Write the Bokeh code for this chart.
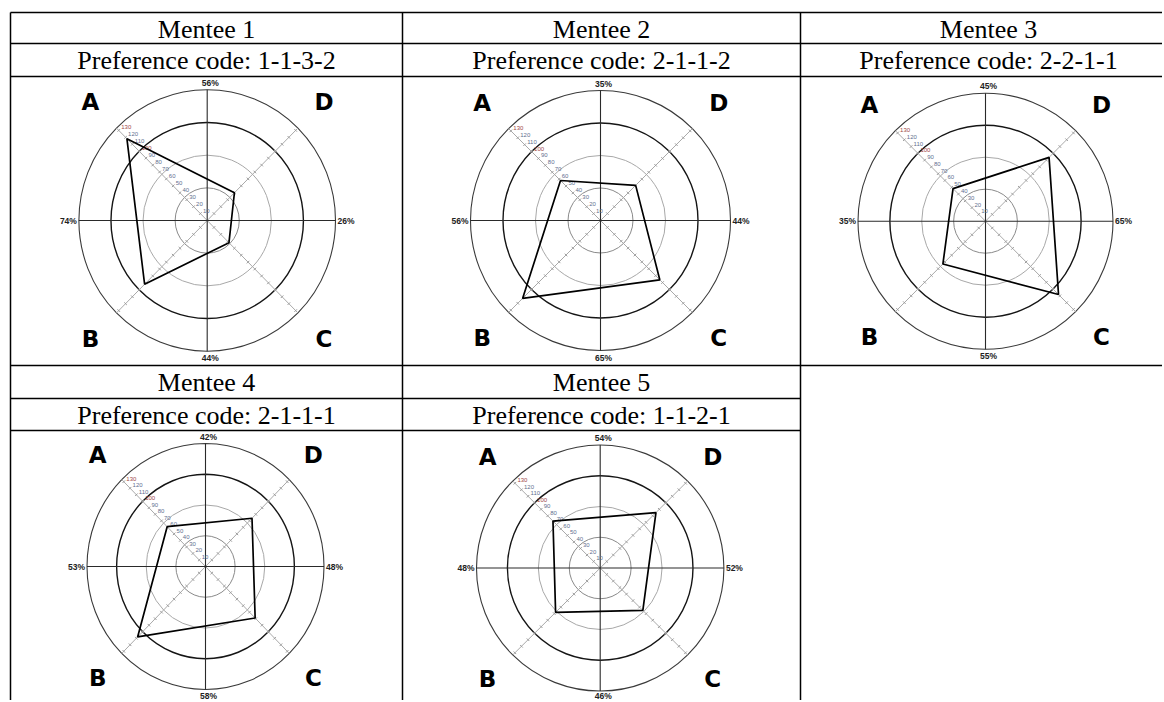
import numpy as np
from bokeh.plotting import figure
from bokeh.models import Range1d
from bokeh.core.properties import value
from bokeh.embed import file_html
from bokeh.resources import INLINE

# ---------------- data ----------------
mentees = ["Mentee 1", "Mentee 2", "Mentee 3", "Mentee 4", "Mentee 5"]
pref_codes = ["1-1-3-2", "2-1-1-2", "2-2-1-1", "2-1-1-1", "1-1-2-1"]
quadrants = ["A", "B", "C", "D"]
score_A = [118, 58, 48, 61, 72]
score_B = [92, 113, 63, 108, 68]
score_C = [32, 86, 108, 79, 65]
score_D = [40, 51, 94, 74, 85]
pct_top = ["56%", "35%", "45%", "42%", "54%"]
pct_left = ["74%", "56%", "35%", "53%", "48%"]
pct_right = ["26%", "44%", "65%", "48%", "52%"]
pct_bottom = ["44%", "65%", "55%", "58%", "46%"]
scale_ticks = [10, 20, 30, 40, 50, 60, 70, 80, 90, 100, 110, 120, 130]
ring_values = [33.33, 66.67, 100.0, 133.33]
scale_max = 133.33

# ---------------- layout (reference-pixel coordinates) ----------------
W, H = 1162, 700

panel_cx = [206.7, 600.0, 985.0, 205.0, 599.7]
panel_cy = [220.0, 220.0, 220.7, 566.0, 567.5]
panel_rx = [128.3, 130.0, 127.5, 118.5, 123.7]
panel_ry = [130.7, 130.0, 128.0, 123.0, 123.0]
cell_cx = [206, 601, 988, 206, 601]
title_top = [12, 12, 12, 365, 365]
code_top = [43, 43, 43, 398, 398]

# unit directions on screen (y downward): A upper-left, B lower-left, C lower-right, D upper-right
s2 = 1 / np.sqrt(2)
dirs = {"A": (-s2, -s2), "B": (-s2, s2), "C": (s2, s2), "D": (s2, -s2)}

p = figure(width=W, height=H, output_backend="svg", toolbar_location=None,
           x_range=Range1d(0, W), y_range=Range1d(H, 0),
           x_axis_location=None, y_axis_location=None, min_border=0)
p.grid.visible = False
p.outline_line_color = None
p.background_fill_color = "white"

# ---------------- table ----------------
hx0, hx1, hy = [], [], []
for y, x1 in [(12, 1200), (43, 1200), (76, 1200), (365, 1200), (398, 800), (430, 800)]:
    hx0.append(10); hx1.append(x1); hy.append(y)
p.segment(x0=hx0, y0=hy, x1=hx1, y1=hy, line_color="black", line_width=1.5)
vx, vy0, vy1 = [], [], []
for x in [10, 402, 800]:
    vx.append(x); vy0.append(12); vy1.append(H + 5)
p.segment(x0=vx, y0=vy0, x1=vx, y1=vy1, line_color="black", line_width=1.5)

p.text(x=cell_cx, y=[t + 16.5 for t in title_top], text=mentees,
       text_font=value("Liberation Serif"), text_font_size="26px", text_color="black",
       text_align="center", text_baseline="middle")
p.text(x=cell_cx, y=[t + 16.5 for t in code_top],
       text=["Preference code: " + c for c in pref_codes],
       text_font=value("Liberation Serif"), text_font_size="26px", text_color="black",
       text_align="center", text_baseline="middle")

# ---------------- radar panels ----------------
ring_colors = ["#8a8a8a", "#a8a8a8", "#151515", "#3a3a3a"]
ring_widths = [1.0, 1.0, 1.4, 1.1]

for i in range(5):
    cx, cy = panel_cx[i], panel_cy[i]
    sx, sy = panel_rx[i] / scale_max, panel_ry[i] / scale_max
    rx, ry = panel_rx[i], panel_ry[i]

    # rings
    for rv, rc, rw in zip(ring_values, ring_colors, ring_widths):
        p.ellipse(x=[cx], y=[cy], width=[2 * rv * sx], height=[2 * rv * sy],
                  fill_color=None, line_color=rc, line_width=rw)
    # diagonal scale lines with ticks
    dx0, dy0, dx1, dy1 = [], [], [], []
    tx0, ty0, tx1, ty1 = [], [], [], []
    for q in quadrants:
        ux, uy = dirs[q]
        dx0.append(cx); dy0.append(cy)
        dx1.append(cx + scale_max * sx * ux); dy1.append(cy + scale_max * sy * uy)
        for t in scale_ticks:
            px, py = cx + t * sx * ux, cy + t * sy * uy
            nx, ny = -uy, ux
            tx0.append(px - 1.8 * nx); ty0.append(py - 1.8 * ny)
            tx1.append(px + 1.8 * nx); ty1.append(py + 1.8 * ny)
    p.segment(x0=dx0, y0=dy0, x1=dx1, y1=dy1, line_color="#a9a9a9", line_width=1)
    p.segment(x0=tx0, y0=ty0, x1=tx1, y1=ty1, line_color="#9a9a9a", line_width=1)

    # horizontal / vertical axes
    p.segment(x0=[cx - rx, cx], y0=[cy, cy - ry], x1=[cx + rx, cx], y1=[cy, cy + ry],
              line_color="#2a2a2a", line_width=1.1)

    # scale labels on the A diagonal
    ux, uy = dirs["A"]
    lx = [cx + t * sx * ux + 2.5 for t in scale_ticks]
    ly = [cy + t * sy * uy - 3 for t in scale_ticks]
    lcol = ["#a04848" if t in (100, 130) else "#5f6f8f" for t in scale_ticks]
    p.text(x=lx, y=ly, text=[str(t) for t in scale_ticks], text_color=lcol,
           text_font=value("Liberation Sans"), text_font_size="6px",
           text_align="left", text_baseline="middle")

    # profile polygon
    vals = {"A": score_A[i], "B": score_B[i], "C": score_C[i], "D": score_D[i]}
    order = ["A", "D", "C", "B"]
    xs = [cx + vals[q] * sx * dirs[q][0] for q in order]
    ys = [cy + vals[q] * sy * dirs[q][1] for q in order]
    p.patches(xs=[xs], ys=[ys], fill_color=None, line_color="black", line_width=1.7)

    # quadrant letters
    qx = [cx + 0.91 * rx * np.sign(dirs[q][0]) for q in quadrants]
    qy = [cy + 0.905 * ry * np.sign(dirs[q][1]) for q in quadrants]
    p.text(x=qx, y=qy, text=quadrants, text_color="black",
           text_font=value("DejaVu Sans"), text_font_style="bold", text_font_size="23px",
           text_align="center", text_baseline="middle")

    # percentage labels
    pk = dict(text_color="#222222", text_font=value("Liberation Sans"),
              text_font_style="bold", text_font_size="8.5px", text_baseline="middle")
    p.text(x=[cx + 3], y=[cy - ry - 7], text=[pct_top[i]], text_align="center", **pk)
    p.text(x=[cx + 3], y=[min(cy + ry + 7, H - 5)], text=[pct_bottom[i]], text_align="center", **pk)
    p.text(x=[cx - rx - 2], y=[cy], text=[pct_left[i]], text_align="right", **pk)
    p.text(x=[cx + rx + 2], y=[cy], text=[pct_right[i]], text_align="left", **pk)

open("out.html", "w").write(file_html(p, INLINE))
